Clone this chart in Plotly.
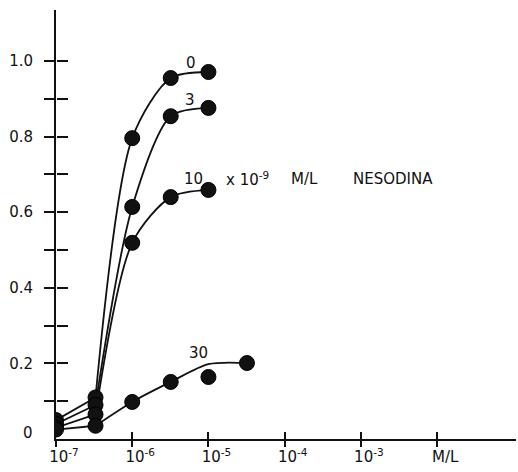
import math
import plotly.graph_objects as go

# Concentration of agonist (M/L)
conc = [1e-7, 3.3e-7, 1e-6, 3.2e-6, 1e-5]
conc_30 = [1e-7, 3.3e-7, 1e-6, 3.2e-6, 1e-5, 3.2e-5]

# Response at each nesodina concentration (x 10^-9 M/L)
resp_0 = [0.05, 0.11, 0.796, 0.955, 0.971]
resp_3 = [0.04, 0.09, 0.614, 0.854, 0.876]
resp_10 = [0.03, 0.065, 0.519, 0.640, 0.659]
resp_30 = [0.025, 0.035, 0.098, 0.151, 0.164, 0.201]

# Hand-fitted curve for 30 x 10^-9 M/L
fit_30 = [0.025, 0.035, 0.098, 0.151, 0.198, 0.201]

curve_labels = ["0", "3", "10", "30"]
legend_words = ["x 10<sup>-9</sup>", "M/L", "NESODINA"]

x_tick_vals = [1e-7, 1e-6, 1e-5, 1e-4, 1e-3, 1e-2]
x_tick_text = ["10<sup>-7</sup>", "10<sup>-6</sup>", "10<sup>-5</sup>",
               "10<sup>-4</sup>", "10<sup>-3</sup>", "M/L"]
y_tick_vals = [0.2, 0.4, 0.6, 0.8, 1.0]
y_tick_text = ["0.2", "0.4", "0.6", "0.8", "1.0"]
y_minor_vals = [0.1, 0.3, 0.5, 0.7, 0.9]

INK = "#111111"
FONT = "DejaVu Sans"
X_RANGE = [-7, -0.965]
Y_RANGE = [0, 1.135]

fig = go.Figure()

series = [(conc, resp_0), (conc, resp_3), (conc, resp_10), (conc_30, fit_30)]
for xs, ys in series:
    # straight run from the lowest dose into the second cluster
    fig.add_trace(go.Scatter(x=xs[:2], y=ys[:2], mode="lines",
                             line=dict(color=INK, width=1.8),
                             hoverinfo="skip", showlegend=False))
    # smooth rise from the second dose onwards
    fig.add_trace(go.Scatter(x=xs[1:], y=ys[1:], mode="lines",
                             line=dict(color=INK, width=1.8, shape="spline",
                                       smoothing=0.8),
                             hoverinfo="skip", showlegend=False))

for xs, ys in [(conc, resp_0), (conc, resp_3), (conc, resp_10), (conc_30, resp_30)]:
    fig.add_trace(go.Scatter(x=xs, y=ys, mode="markers",
                             marker=dict(size=15, color=INK,
                                         line=dict(color="black", width=1)),
                             showlegend=False))

label_font = dict(family=FONT, size=15, color=INK)

# curve labels
label_pos = [(-5.224, 0.995), (-5.237, 0.897), (-5.198, 0.688), (-5.13, 0.228)]
for text, (lx, ly) in zip(curve_labels, label_pos):
    fig.add_annotation(x=lx, y=ly, xref="x", yref="y", text=text,
                       showarrow=False, font=label_font)

# unit note next to the "10" curve, word by word
word_x = [-4.49, -3.743, -2.577]
for text, wx in zip(legend_words, word_x):
    fig.add_annotation(x=wx, y=0.688, xref="x", yref="y", xanchor="center",
                       text=text, showarrow=False, font=label_font)

# zero label on the y axis
fig.add_annotation(x=-0.045, y=0.016, xref="paper", yref="y", xanchor="right",
                   text="0", showarrow=False, font=label_font)

axis_font = dict(family=FONT, size=15, color=INK)
tick_style = dict(ticks="outside", tickwidth=2, tickcolor=INK)

fig.update_layout(
    width=518, height=472,
    margin=dict(l=56, r=2, t=10, b=33),
    paper_bgcolor="white", plot_bgcolor="white",
    xaxis=dict(type="log", range=X_RANGE, showgrid=False, zeroline=False,
               showline=True, linecolor=INK, linewidth=2,
               ticklen=6, **tick_style,
               tickmode="array", tickvals=x_tick_vals, ticktext=x_tick_text,
               tickfont=axis_font, ticklabelshift=8, ticklabelstandoff=-3),
    xaxis2=dict(type="log", range=X_RANGE, overlaying="x", anchor="free",
                position=0, side="top", showgrid=False, zeroline=False,
                showline=False, ticklen=7, **tick_style,
                tickmode="array", tickvals=x_tick_vals[1:],
                showticklabels=False),
    yaxis=dict(range=Y_RANGE, showgrid=False, zeroline=False,
               showline=True, linecolor=INK, linewidth=2,
               ticklen=10, **tick_style,
               tickmode="array", tickvals=y_tick_vals, ticktext=y_tick_text,
               tickfont=axis_font, ticklabelstandoff=8,
               minor=dict(tickvals=y_minor_vals, ticklen=10, **tick_style)),
    yaxis2=dict(range=Y_RANGE, overlaying="y", anchor="free", position=0,
                side="right", showgrid=False, zeroline=False, showline=False,
                ticklen=11, **tick_style,
                tickmode="array", tickvals=y_tick_vals, showticklabels=False,
                minor=dict(tickvals=y_minor_vals, ticklen=11, **tick_style)),
)

# invisible trace so the overlay axes are drawn
fig.add_trace(go.Scatter(x=[1e-7], y=[0], xaxis="x2", yaxis="y2", mode="markers",
                         marker=dict(opacity=0), hoverinfo="skip", showlegend=False))

fig.write_html("out.html")
